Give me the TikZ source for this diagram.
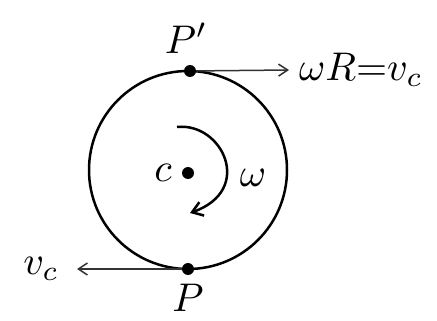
\documentclass[tikz,border=0pt]{standalone}
\usepackage{amsmath,amssymb}
\usepackage{xcolor}
\usetikzlibrary{arrows.meta,positioning}
\tikzset{
  ar/.style={-{Straight Barb[length=3.2mm,width=4.2mm]},line width=1.5pt,black!80},
  spin/.style={-{Straight Barb[length=3.6mm,width=5mm]},line width=2.5pt},
  dot/.style={circle,fill=black,inner sep=0pt,minimum size=12pt},
  whl/.style={circle,draw=black,line width=2.5pt,inner sep=0pt,minimum size=198pt},
  lbl/.style={scale=4,inner sep=0.3pt}
}
\begin{document}
\begin{tikzpicture}[x=1pt,y=-1pt]
\useasboundingbox (0,0) rectangle (437,321);
\node[whl] (rim) at (188,170) {};
\node[dot] (c) at (188,173) {};
\node[dot] (pt) at (190,71) {};
\node[dot] (pb) at (188,269) {};
\node[lbl,left=8pt of c] (cl) {$c$};
\node[lbl] (wl) at (253,178) {$\omega$};
\node[lbl] (ptl) at (186,38) {$P'$};
\node[lbl] (pbl) at (188,298) {$P$};
\coordinate (vt) at (289,70);
\coordinate (vb) at (77,269);
\draw[ar] (pt) -- (vt);
\draw[ar] (pb) -- (vb);
\node[lbl,right=8pt of vt] (vtl) {$\omega R{=}v_c$};
\node[lbl,left=16pt of vb] (vbl) {$v_c$};
\coordinate (w1) at (177,127);
\coordinate (w2) at (190,213);
\draw[spin] (w1) .. controls (222,122) and (255,190) .. (w2);
\end{tikzpicture}
\end{document}
